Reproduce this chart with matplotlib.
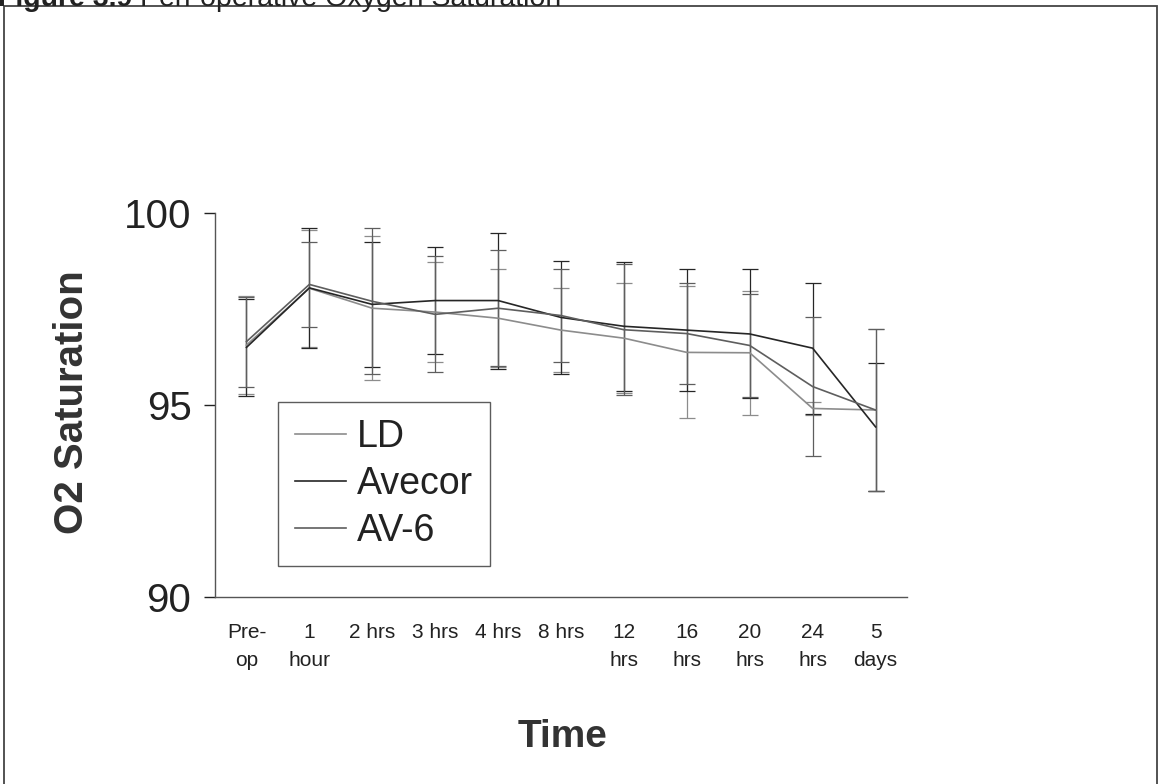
import matplotlib
matplotlib.use("Agg")
import matplotlib.pyplot as plt
from matplotlib import font_manager
from matplotlib.patches import Rectangle
from matplotlib.lines import Line2D
import numpy as np

times = ["Pre-\nop", "1\nhour", "2 hrs", "3 hrs", "4 hrs", "8 hrs",
         "12\nhrs", "16\nhrs", "20\nhrs", "24\nhrs", "5\ndays"]

# mean O2 saturation per group
avecor = [96.50, 98.05, 97.62, 97.72, 97.72, 97.28, 97.05, 96.95, 96.85, 96.48, 94.43]
av6 = [96.65, 98.14, 97.70, 97.36, 97.52, 97.33, 96.96, 96.86, 96.55, 95.48, 94.87]
ld = [96.56, 98.04, 97.52, 97.42, 97.26, 96.95, 96.74, 96.37, 96.36, 94.91, 94.87]

# error bar half widths
avecor_err = [1.27, 1.56, 1.62, 1.40, 1.77, 1.46, 1.68, 1.58, 1.68, 1.71, 1.67]
av6_err = [1.17, 1.11, 1.90, 1.51, 1.51, 1.20, 1.70, 1.32, 1.33, 1.81, 2.12]
ld_err = [1.28, 1.52, 1.88, 1.31, 1.27, 1.10, 1.43, 1.72, 1.62, 0.17, 2.12]

names = {f.name for f in font_manager.fontManager.ttflist}
base_font = "Liberation Sans" if "Liberation Sans" in names else "DejaVu Sans"
narrow_font = "Liberation Sans Narrow" if "Liberation Sans Narrow" in names else base_font
plt.rcParams["font.family"] = base_font

W, H = 1167, 784
fig = plt.figure(figsize=(W / 100, H / 100), dpi=100)
ax = fig.add_axes([215 / W, 1 - 597 / H, (907 - 215) / W, (597 - 213) / H])

x = np.arange(len(times))
series = [
    ("LD", ld, ld_err, "#8c8c8c"),
    ("Avecor", avecor, avecor_err, "#262626"),
    ("AV-6", av6, av6_err, "#5e5e5e"),
]

for name, vals, err, col in series:
    ax.errorbar(x, vals, yerr=err, color=col, lw=1.2, elinewidth=0.9,
                capsize=5.5, capthick=0.9, label=name)

ax.set_xlim(-0.5, len(times) - 0.5)
ax.set_ylim(90, 100)
ax.set_yticks([90, 95, 100])
ax.set_xticks(x)
ax.set_xticklabels(times, fontsize=15, family=narrow_font, linespacing=1.6, color="#222222")
ax.tick_params(axis="x", length=0, pad=19)
ax.tick_params(axis="y", length=8, width=1, pad=9, labelsize=29, colors="#222222")
for s in ["top", "right"]:
    ax.spines[s].set_visible(False)
for s in ["left", "bottom"]:
    ax.spines[s].set_color("#555555")
    ax.spines[s].set_linewidth(1)

handles = [Line2D([], [], color=c, lw=1.2) for _, _, _, c in series]
leg = fig.legend(handles, [s[0] for s in series], loc="upper left",
                 bbox_to_anchor=(278 / W, 1 - 402 / H), borderaxespad=0,
                 fontsize=27, frameon=True, fancybox=False, borderpad=0.45,
                 labelspacing=0.3, handlelength=1.35, handletextpad=0.3)
leg.get_frame().set_edgecolor("#333333")
leg.get_frame().set_linewidth(1)
for t in leg.get_texts():
    t.set_color("#222222")

fig.text(72 / W, 1 - 402 / H, "O2 Saturation", rotation=90, fontsize=29,
         fontweight="bold", ha="center", va="center", color="#333333")
fig.text(563 / W, 1 - 737 / H, "Time", fontsize=28, fontweight="bold",
         ha="center", va="center", color="#333333")

# caption, cut off at the top edge of the scan
t1 = fig.text(-2 / W, 1 - 6 / H, "Figure 3.9 ", fontsize=20.5, fontweight="bold",
              ha="left", va="baseline", color="#222222")
fig.canvas.draw()
bb = t1.get_window_extent()
fig.text(bb.x1 / W, 1 - 6 / H, "Peri-operative Oxygen Saturation", fontsize=20.5,
         ha="left", va="baseline", color="#222222")

fig.patches.append(Rectangle((4 / W, -0.02), (1157 - 4) / W, 1.02 - 6 / H,
                             transform=fig.transFigure, fill=False,
                             edgecolor="#444444", lw=1.3))

fig.savefig("out.png", dpi=100)
